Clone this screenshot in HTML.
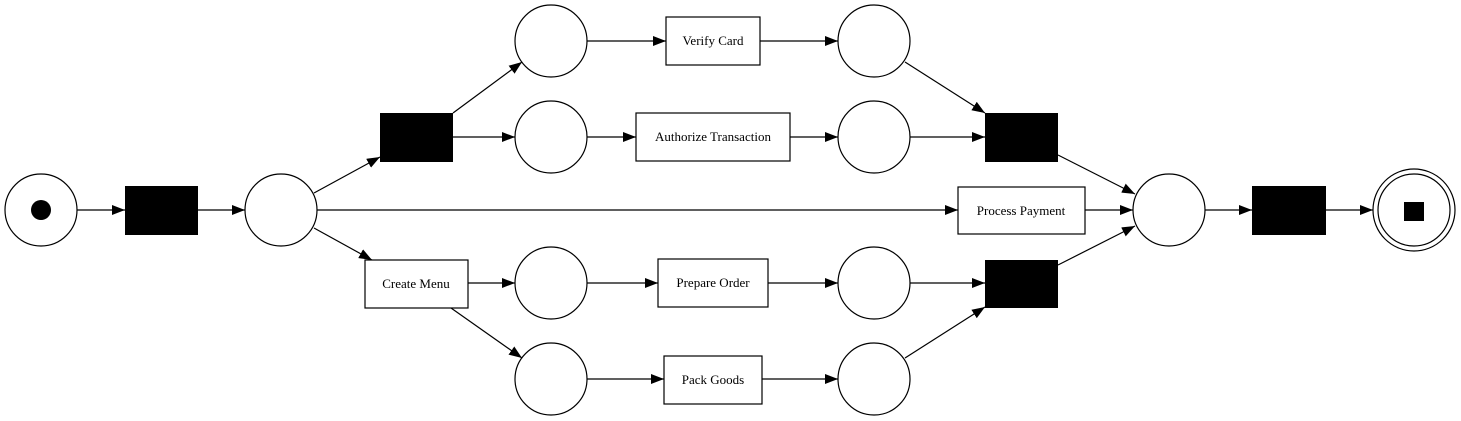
<!DOCTYPE html>
<html><head><meta charset="utf-8"><style>html,body{margin:0;padding:0;background:#fff}svg{display:block}text{font-family:"Liberation Serif","DejaVu Serif",serif;font-size:13px}</style></head>
<body>
<svg width="1461" height="421" viewBox="0 0 1461 421" xmlns="http://www.w3.org/2000/svg">
<defs><marker id="a" markerWidth="13" markerHeight="10" refX="13" refY="5" orient="auto" markerUnits="userSpaceOnUse"><path d="M0,0 L13,5 L0,10 z" fill="#000"/></marker></defs>
<g fill="#fff" stroke="#000" stroke-width="1.2">
<circle cx="41" cy="210" r="36"/>
<circle cx="281" cy="210" r="36"/>
<circle cx="551" cy="41" r="36"/>
<circle cx="551" cy="137" r="36"/>
<circle cx="551" cy="283" r="36"/>
<circle cx="551" cy="379" r="36"/>
<circle cx="874" cy="41" r="36"/>
<circle cx="874" cy="137" r="36"/>
<circle cx="874" cy="283" r="36"/>
<circle cx="874" cy="379" r="36"/>
<circle cx="1169" cy="210" r="36"/>
<circle cx="1414" cy="210" r="41"/>
<circle cx="1414" cy="210" r="36"/>
<rect x="666" y="17" width="94" height="48"/>
<rect x="636" y="113" width="154" height="48"/>
<rect x="365" y="260" width="103" height="48"/>
<rect x="658" y="259" width="110" height="48"/>
<rect x="664" y="356" width="98" height="48"/>
<rect x="958" y="187" width="127" height="47"/>
</g>
<circle cx="41" cy="210" r="10"/>
<rect x="1404" y="202" width="20" height="19"/>
<g fill="#000">
<rect x="125" y="186" width="73" height="49"/>
<rect x="380" y="113" width="73" height="49"/>
<rect x="985" y="113" width="73" height="49"/>
<rect x="985" y="260" width="73" height="48"/>
<rect x="1252" y="186" width="74" height="49"/>
</g>
<g stroke="#000" stroke-width="1.2" fill="none" marker-end="url(#a)">
<line x1="77" y1="210" x2="125" y2="210"/>
<line x1="198" y1="210" x2="245" y2="210"/>
<line x1="314" y1="193" x2="380" y2="157"/>
<line x1="317" y1="210" x2="958" y2="210"/>
<line x1="314" y1="228" x2="372" y2="260"/>
<line x1="453" y1="113" x2="522" y2="62"/>
<line x1="453" y1="137" x2="515" y2="137"/>
<line x1="468" y1="283" x2="515" y2="283"/>
<line x1="451" y1="308" x2="522" y2="358"/>
<line x1="587" y1="41" x2="666" y2="41"/>
<line x1="587" y1="137" x2="636" y2="137"/>
<line x1="587" y1="283" x2="658" y2="283"/>
<line x1="587" y1="379" x2="664" y2="379"/>
<line x1="760" y1="41" x2="838" y2="41"/>
<line x1="790" y1="137" x2="838" y2="137"/>
<line x1="768" y1="283" x2="838" y2="283"/>
<line x1="762" y1="379" x2="838" y2="379"/>
<line x1="905" y1="62" x2="985" y2="113"/>
<line x1="910" y1="137" x2="985" y2="137"/>
<line x1="910" y1="283" x2="985" y2="283"/>
<line x1="905" y1="358" x2="985" y2="307"/>
<line x1="1058" y1="155" x2="1135" y2="194"/>
<line x1="1085" y1="210" x2="1133" y2="210"/>
<line x1="1058" y1="265" x2="1135" y2="226"/>
<line x1="1205" y1="210" x2="1252" y2="210"/>
<line x1="1326" y1="210" x2="1373" y2="210"/>
</g>
<g text-anchor="middle" fill="#000">
<text x="713" y="45">Verify Card</text>
<text x="713" y="141">Authorize Transaction</text>
<text x="416" y="288">Create Menu</text>
<text x="713" y="287">Prepare Order</text>
<text x="713" y="384">Pack Goods</text>
<text x="1021" y="215">Process Payment</text>
</g>
</svg>
</body></html>
